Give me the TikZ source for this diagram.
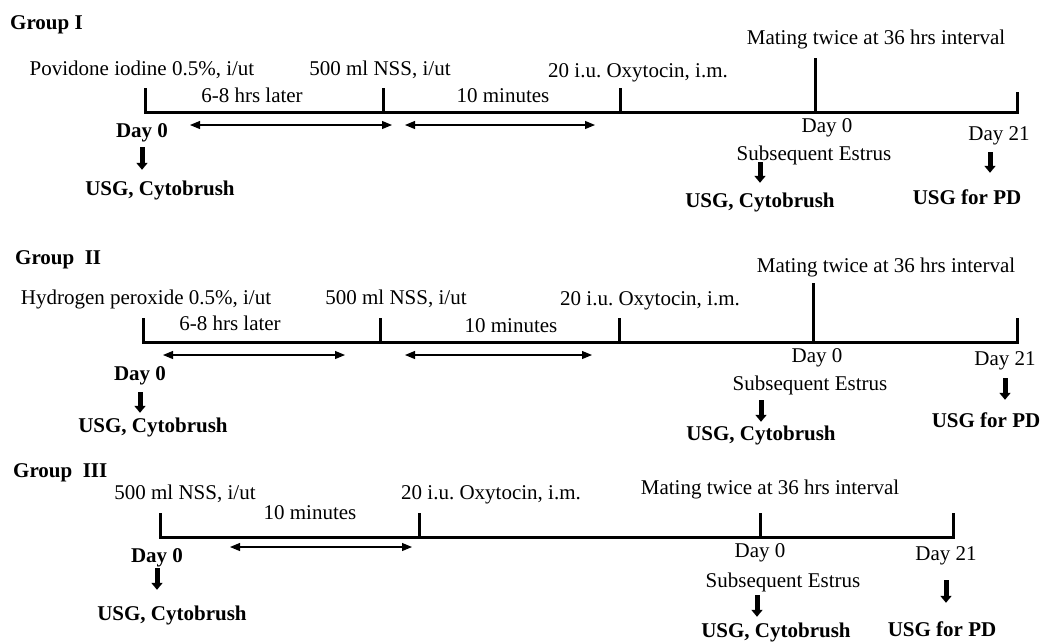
\documentclass[tikz,border=0pt]{standalone}
\usepackage{fontspec}
\setmainfont{Liberation Serif}
\usetikzlibrary{arrows.meta,positioning,calc}
\frenchspacing

\begin{document}
\begin{tikzpicture}[x=1pt, y=-1pt,
  txt/.style={inner sep=0pt, text height=14pt, text depth=0pt, font=\fontsize{21}{24}\selectfont},
  btxt/.style={txt, font=\fontsize{21}{24}\selectfont\bfseries},
  tline/.style={line width=3pt},
  span/.style={line width=1.1pt, {Triangle[length=10pt,width=8pt]}-{Triangle[length=10pt,width=8pt]}},
  down/.style={line width=5pt, -{Triangle[length=7pt,width=11pt]}}]
\useasboundingbox (0,0) rectangle (1053,641);
%
% Group I
\node[btxt, anchor=west] (g1) at (10,22) {Group I};
\node[txt] (pov) at (142,68) {Povidone iodine 0.5\%, i/ut};
\node[txt] (nss1) at (380,68) {500 ml NSS, i/ut};
\node[txt] (oxy1) at (638,70) {20 i.u. Oxytocin, i.m.};
\node[txt] (mat1) at (876,37) {Mating twice at 36 hrs interval};
\node[txt] (hrs1) at (252,95) {6-8 hrs later};
\node[txt] (min1) at (503,95) {10 minutes};
\node[btxt] (d01) at (142,130) {Day 0};
\node[btxt] (usg1) at (160,188) {USG, Cytobrush};
\node[txt] (e01) at (827,125) {Day 0};
\node[txt] (d211) at (999,133) {Day 21};
\node[txt] (sub1) at (814,153) {Subsequent Estrus};
\node[btxt] (usgb1) at (760,200) {USG, Cytobrush};
\node[btxt] (pd1) at (967,197) {USG for PD};
\coordinate (t10) at (145,112);
\coordinate (t11) at (383,112);
\coordinate (t12) at (620,112);
\coordinate (t13) at (815,112);
\coordinate (t14) at (1017,112);
\draw[tline] (t10) ++(0,-24) -- (t10) -- (t14) -- ++(0,-20);
\draw[tline] (t11) -- ++(0,-24);
\draw[tline] (t12) -- ++(0,-24);
\draw[tline] (t13) -- ++(0,-54);
\draw[span] ([shift={(45,13)}]t10) -- ([shift={(9,13)}]t11);
\draw[span] ([shift={(22,13)}]t11) -- ([shift={(-25,13)}]t12);
\draw[down, shorten <=10pt, shorten >=11pt] (d01.south) -- (d01.south |- usg1.north);
\draw[down, shorten <=2pt, shorten >=10pt] (sub1.south -| usgb1) -- (usgb1.north);
\draw[down, shorten <=12pt, shorten >=17pt] ($(d211.south)+(-9,0)$) -- ($(pd1.north -| d211)+(-9,0)$);
%
% Group II
\node[btxt, anchor=west] (g2) at (15,257) {Group~~II};
\node[txt] (hyd) at (146,297) {Hydrogen peroxide 0.5\%, i/ut};
\node[txt] (nss2) at (396,297) {500 ml NSS, i/ut};
\node[txt] (oxy2) at (650,298) {20 i.u. Oxytocin, i.m.};
\node[txt] (mat2) at (886,265) {Mating twice at 36 hrs interval};
\node[txt] (hrs2) at (230,323) {6-8 hrs later};
\node[txt] (min2) at (511,325) {10 minutes};
\node[btxt] (d02) at (140,373) {Day 0};
\node[btxt] (usg2) at (153,425) {USG, Cytobrush};
\node[txt] (e02) at (817,355) {Day 0};
\node[txt] (d212) at (1005,358) {Day 21};
\node[txt] (sub2) at (810,383) {Subsequent Estrus};
\node[btxt] (usgb2) at (761,433) {USG, Cytobrush};
\node[btxt] (pd2) at (986,420) {USG for PD};
\coordinate (t20) at (143,342);
\coordinate (t21) at (380,342);
\coordinate (t22) at (619,342);
\coordinate (t23) at (813,342);
\coordinate (t24) at (1017,342);
\draw[tline] (t20) ++(0,-24) -- (t20) -- (t24) -- ++(0,-24);
\draw[tline] (t21) -- ++(0,-24);
\draw[tline] (t22) -- ++(0,-24);
\draw[tline] (t23) -- ++(0,-59);
\draw[span] ([shift={(20,13)}]t20) -- ([shift={(-35,13)}]t21);
\draw[span] ([shift={(25,13)}]t21) -- ([shift={(-27,13)}]t22);
\draw[down, shorten <=12pt, shorten >=5pt] (d02.south) -- (d02.south |- usg2.north);
\draw[down, shorten <=10pt, shorten >=4pt] (sub2.south -| usgb2) -- (usgb2.north);
\draw[down, shorten <=13pt, shorten >=13pt] (d212.south) -- (d212.south |- pd2.north);
%
% Group III
\node[btxt, anchor=west] (g3) at (13,470) {Group~~III};
\node[txt] (nss3) at (185,492) {500 ml NSS, i/ut};
\node[txt] (min3) at (310,512) {10 minutes};
\node[txt] (oxy3) at (491,492) {20 i.u. Oxytocin, i.m.};
\node[txt] (mat3) at (770,487) {Mating twice at 36 hrs interval};
\node[btxt] (d03) at (157,555) {Day 0};
\node[btxt] (usg3) at (172,613) {USG, Cytobrush};
\node[txt] (e03) at (760,550) {Day 0};
\node[txt] (d213) at (946,553) {Day 21};
\node[txt] (sub3) at (783,580) {Subsequent Estrus};
\node[btxt] (usgb3) at (776,630) {USG, Cytobrush};
\node[btxt] (pd3) at (942,629) {USG for PD};
\coordinate (t30) at (160,537);
\coordinate (t31) at (419,537);
\coordinate (t32) at (760,537);
\coordinate (t33) at (953,537);
\draw[tline] (t30) ++(0,-24) -- (t30) -- (t33) -- ++(0,-24);
\draw[tline] (t31) -- ++(0,-24);
\draw[tline] (t32) -- ++(0,-24);
\draw[span] ([shift={(70,10)}]t30) -- ([shift={(-7,10)}]t31);
\draw[down, shorten <=6pt, shorten >=16pt] (d03.south) -- (d03.south |- usg3.north);
\draw[down, shorten <=8pt, shorten >=6pt] ($(sub3.south)+(-26,0)$) -- ($(usgb3.north -| sub3)+(-26,0)$);
\draw[down, shorten <=20pt, shorten >=19pt] (d213.south) -- (d213.south |- pd3.north);
%
\end{tikzpicture}
\end{document}
